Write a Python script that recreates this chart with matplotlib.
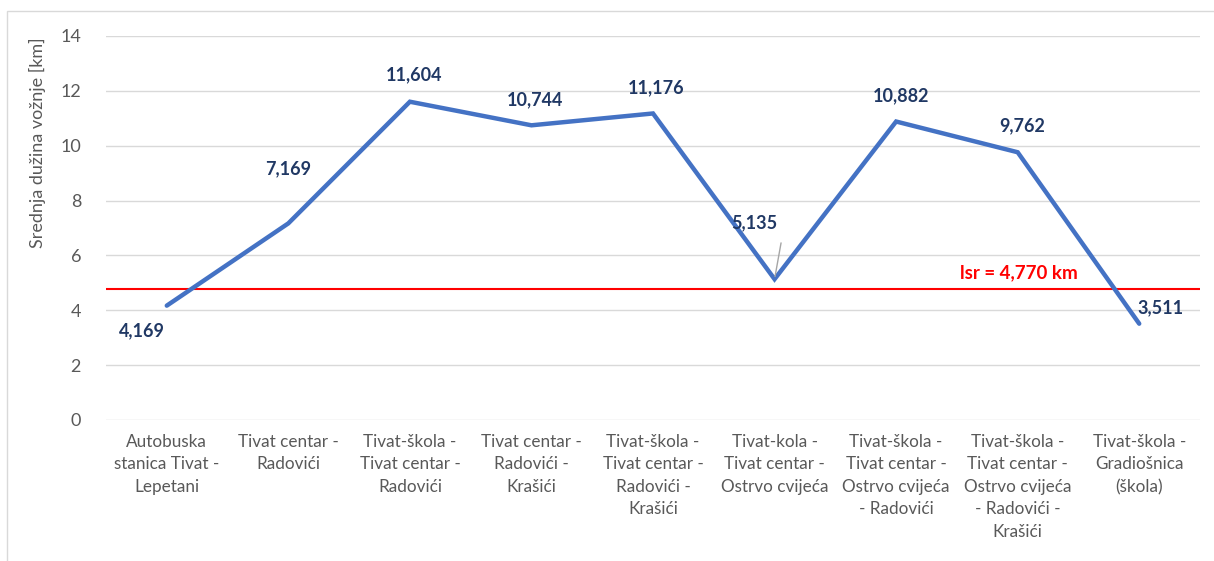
import matplotlib.pyplot as plt
from matplotlib.patches import Rectangle

plt.rcParams['font.family'] = ['Lato', 'DejaVu Sans']

# route names (x categories) and mean trip length per route
categories = [
    'Autobuska\nstanica Tivat -\nLepetani',
    'Tivat centar -\nRadovići',
    'Tivat-škola -\nTivat centar -\nRadovići',
    'Tivat centar -\nRadovići -\nKrašići',
    'Tivat-škola -\nTivat centar -\nRadovići -\nKrašići',
    'Tivat-kola -\nTivat centar -\nOstrvo cvijeća',
    'Tivat-škola -\nTivat centar -\nOstrvo cvijeća\n- Radovići',
    'Tivat-škola -\nTivat centar -\nOstrvo cvijeća\n- Radovići -\nKrašići',
    'Tivat-škola -\nGradiošnica\n(škola)',
]
lengths = [4.169, 7.169, 11.604, 10.744, 11.176, 5.135, 10.882, 9.762, 3.511]
value_labels = ['4,169', '7,169', '11,604', '10,744', '11,176', '5,135', '10,882', '9,762', '3,511']
mean_length = 4.770
mean_label = 'lsr = 4,770 km'
yticks = [0, 2, 4, 6, 8, 10, 12, 14]

W, H = 1214, 561
fig = plt.figure(figsize=(W / 100, H / 100), dpi=100)
ax = fig.add_axes([106 / W, 1 - 420 / H, (1200 - 106) / W, (420 - 36) / H])

x = list(range(len(categories)))
ax.plot(x, lengths, color='#4472C4', lw=3.2, solid_capstyle='round', solid_joinstyle='miter', zorder=3)
ax.axhline(mean_length, color='#FF0000', lw=1.5, zorder=2)

ax.set_xlim(-0.5, len(categories) - 0.5)
ax.set_ylim(0, 14)
ax.set_yticks(yticks)
ax.set_yticklabels([str(t) for t in yticks])
ax.set_xticks(x)
ax.set_xticklabels(categories, linespacing=1.5)
ax.tick_params(axis='both', length=0, colors='#595959')
ax.tick_params(axis='x', pad=10, labelsize=12.3)
ax.tick_params(axis='y', pad=18, labelsize=13)
ax.grid(axis='y', color='#D9D9D9', lw=1)
ax.set_axisbelow(True)
for s in ax.spines.values():
    s.set_visible(False)

# data label offsets in pixels (dx, dy)
offsets = [(-25, -25), (0, 55), (4, 27), (4, 26), (3, 26), (-20, 56), (5, 26), (5, 26), (21, 16)]
for i, (v, lab) in enumerate(zip(lengths, value_labels)):
    dx, dy = offsets[i]
    ax.annotate(lab, (i, v), xytext=(dx, dy), textcoords='offset pixels',
                ha='center', va='center', fontsize=13, fontweight='bold', color='#203864', zorder=4)

# leader line for the 5,135 label
ax.annotate('', (5, lengths[5]), xytext=(7, 39), textcoords='offset pixels',
            arrowprops=dict(arrowstyle='-', color='#A6A6A6', lw=1))

ax.annotate(mean_label, (1, mean_length), xycoords=('axes fraction', 'data'),
            xytext=(-122, 16), textcoords='offset pixels', ha='right', va='center',
            fontsize=13.5, fontweight='bold', color='#FF0000')

fig.text(37 / W, 1 - 143 / H, 'Srednja dužina vožnje [km]', rotation=90,
         ha='center', va='center', fontsize=13, color='#595959')

# chart area border
fig.patches.append(Rectangle((7 / W, -0.1), 1.2, 1 - 11 / H + 0.1, transform=fig.transFigure,
                             fill=False, ec='#D9D9D9', lw=1))

fig.savefig('out.png', dpi=100)
